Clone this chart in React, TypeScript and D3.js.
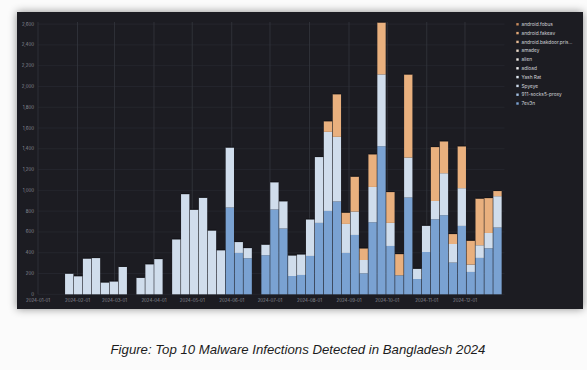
import React from "react";
import * as d3 from "d3";

// ---- data ----
const weeks = [
  "2024-01-22", "2024-01-29", "2024-02-05", "2024-02-12", "2024-02-19", "2024-02-26",
  "2024-03-04", "2024-03-11", "2024-03-18", "2024-03-25", "2024-04-01", "2024-04-08",
  "2024-04-15", "2024-04-22", "2024-04-29", "2024-05-06", "2024-05-13", "2024-05-20",
  "2024-05-27", "2024-06-03", "2024-06-10", "2024-06-17", "2024-06-24", "2024-07-01",
  "2024-07-08", "2024-07-15", "2024-07-22", "2024-07-29", "2024-08-05", "2024-08-12",
  "2024-08-19", "2024-08-26", "2024-09-02", "2024-09-09", "2024-09-16", "2024-09-23",
  "2024-09-30", "2024-10-07", "2024-10-14", "2024-10-21", "2024-10-28", "2024-11-04",
  "2024-11-11", "2024-11-18", "2024-11-25", "2024-12-02", "2024-12-09", "2024-12-16",
  "2024-12-23",
];

// bottom segment (blue)
const sevenEv3n = [
  0, 0, 0, 0, 0, 0, 0, 0, 0, 0, 0, 0, 0, 0, 0, 0, 0, 0,
  835, 398, 347, 0, 376, 816, 633, 176, 186, 369, 687, 802, 893, 398, 571, 202,
  693, 1425, 465, 183, 931, 147, 407, 722, 761, 305, 658, 215, 350, 443, 642,
];
// middle segment (light)
const spyeye = [
  200, 175, 345, 350, 115, 125, 265, 0, 160, 290, 340, 0, 530, 965, 815, 930, 615, 425,
  578, 106, 99, 0, 103, 263, 263, 199, 199, 353, 635, 761, 622, 279, 225, 128,
  340, 691, 222, 0, 385, 100, 254, 176, 404, 179, 363, 71, 122, 147, 302,
];
// top segment (orange)
const androidFakeav = [
  0, 0, 0, 0, 0, 0, 0, 0, 0, 0, 0, 0, 0, 0, 0, 0, 0, 0,
  0, 0, 0, 0, 0, 0, 0, 0, 0, 0, 0, 103, 411, 110, 337, 113,
  315, 500, 298, 205, 800, 0, 0, 520, 308, 97, 404, 231, 450, 337, 51,
];

const legendNames = [
  "android.fobus", "android.fakeav", "android.bakdoor.pris...", "amadey", "alien",
  "adload", "Yash Rat", "Spyeye", "911-socks5-proxy", "7ev3n",
];
const legendColors = [
  "#c98b5c", "#e3a877", "#e9bc95", "#e6d5c5", "#eee8e3",
  "#f2f2f2", "#e0e8f1", "#cbd9ea", "#a2bfe1", "#7aa2d2",
];

const yTicks = [0, 200, 400, 600, 800, 1000, 1200, 1400, 1600, 1800, 2000, 2200, 2400, 2600];
const xTickDates = [
  "2024-01-01", "2024-02-01", "2024-03-01", "2024-04-01", "2024-05-01", "2024-06-01",
  "2024-07-01", "2024-08-01", "2024-09-01", "2024-10-01", "2024-11-01", "2024-12-01",
];

const caption = "Figure: Top 10 Malware Infections Detected in Bangladesh 2024";

// ---- chart ----
const W = 587;
const H = 370;
const keys = ["blue", "light", "orange"];
const segColors: Record<string, string> = {
  blue: "#7aa2d2",
  light: "#d0ddec",
  orange: "#e9b07e",
};

export default function App() {
  const parse = d3.utcParse("%Y-%m-%d");
  const fmt = d3.utcFormat("%Y-%m-%d");
  const x = d3
    .scaleUtc()
    .domain([parse("2024-01-01")!, parse("2025-01-01")!])
    .range([38, 504.5]);
  const y = d3.scaleLinear().domain([0, 2620]).range([294.3, 22]);

  const rows = weeks.map((w, i) => ({
    date: parse(w)!,
    blue: sevenEv3n[i],
    light: spyeye[i],
    orange: androidFakeav[i],
  }));
  const stacked = d3.stack<any>().keys(keys)(rows);

  const fontSmall = "Inter, 'Noto Sans', sans-serif";

  return (
    <svg
      width={W}
      height={H}
      viewBox={`0 0 ${W} ${H}`}
      style={{ position: "absolute", left: 0, top: 0, background: "#fbfbfb" }}
    >
      <defs>
        <filter id="sh" x="-10%" y="-10%" width="120%" height="125%">
          <feDropShadow dx="0" dy="0" stdDeviation="4" floodColor="#000" floodOpacity="0.45" />
        </filter>
      </defs>
      <rect x={0} y={0} width={W} height={H} fill="#fbfbfb" />
      <rect x={17} y={12} width={566} height={297} fill="#1c1d23" filter="url(#sh)" />

      {/* horizontal grid */}
      {yTicks.map((t) => (
        <line
          key={"hg" + t}
          x1={38}
          x2={504.5}
          y1={y(t)}
          y2={y(t)}
          stroke="#272830"
          strokeWidth={0.8}
        />
      ))}
      {/* vertical grid */}
      {xTickDates.map((d) => (
        <line
          key={"vg" + d}
          x1={x(parse(d)!)}
          x2={x(parse(d)!)}
          y1={22}
          y2={294.3}
          stroke="#34363e"
          strokeWidth={0.8}
        />
      ))}

      {/* bars */}
      {stacked.map((series) => (
        <g key={series.key} fill={segColors[series.key]}>
          {series.map((seg, i) => {
            const h = y(seg[0]) - y(seg[1]);
            if (h <= 0) return null;
            const d0 = rows[i].date;
            const d1 = d3.utcDay.offset(d0, 7);
            const x0 = x(d0);
            const x1 = x(d1);
            return (
              <rect
                key={i}
                x={x0 + 0.3}
                y={y(seg[1])}
                width={x1 - x0 - 0.6}
                height={h}
              />
            );
          })}
        </g>
      ))}
      {/* bar top outline */}
      {rows.map((r, i) => {
        const tot = r.blue + r.light + r.orange;
        if (!tot) return null;
        const x0 = x(r.date);
        const x1 = x(d3.utcDay.offset(r.date, 7));
        return (
          <line
            key={"to" + i}
            x1={x0 + 0.3}
            x2={x1 - 0.3}
            y1={y(tot) - 0.3}
            y2={y(tot) - 0.3}
            stroke="#0e0e12"
            strokeWidth={0.8}
          />
        );
      })}

      {/* y tick labels */}
      {yTicks.map((t) => (
        <text
          key={"yl" + t}
          x={34}
          y={y(t)}
          dy="0.35em"
          textAnchor="end"
          fontFamily={fontSmall}
          fontSize={4.4}
          fill="#8e9099"
        >
          {d3.format(",")(t)}
        </text>
      ))}
      {/* x tick labels */}
      {xTickDates.map((d) => (
        <text
          key={"xl" + d}
          x={x(parse(d)!)}
          y={300}
          dy="0.35em"
          textAnchor="middle"
          fontFamily={fontSmall}
          fontSize={4.4}
          fill="#8e9099"
        >
          {fmt(parse(d)!)}
        </text>
      ))}

      {/* legend */}
      {legendNames.map((n, i) => (
        <g key={n} transform={`translate(517.5, ${24.3 + i * 8.8})`}>
          <rect x={-1.2} y={-1.2} width={2.4} height={2.4} fill={legendColors[i]} />
          <text
            x={4}
            y={0}
            dy="0.35em"
            fontFamily={fontSmall}
            fontSize={4.8}
            fill="#d2d3d8"
          >
            {n}
          </text>
        </g>
      ))}

      {/* caption */}
      <text
        x={298}
        y={354}
        textAnchor="middle"
        fontFamily="'Liberation Sans', Arial, sans-serif"
        fontStyle="italic"
        fontSize={13.2}
        fill="#1c1c1c"
      >
        {caption}
      </text>
    </svg>
  );
}
